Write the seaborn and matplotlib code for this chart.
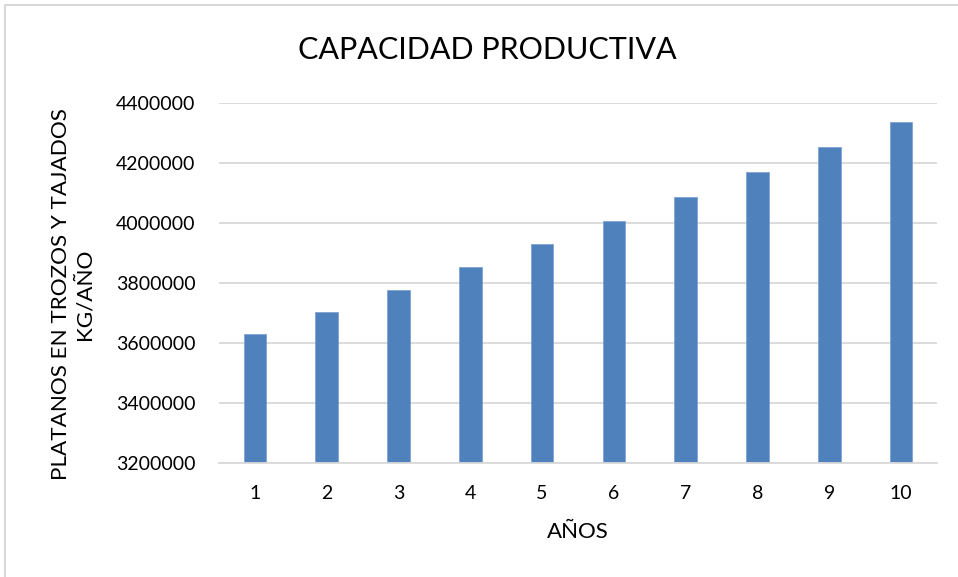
import matplotlib
matplotlib.use("Agg")
import matplotlib.pyplot as plt
from matplotlib.patches import Rectangle
import seaborn as sns
import pandas as pd

# Production capacity per year (kg/año)
years = [1, 2, 3, 4, 5, 6, 7, 8, 9, 10]
capacity = [3630000, 3702600, 3776650, 3852190, 3929230,
            4007810, 4087970, 4169730, 4253120, 4338190]
y_ticks = [3200000, 3400000, 3600000, 3800000, 4000000, 4200000, 4400000]

title = "CAPACIDAD PRODUCTIVA"
x_label = "AÑOS"
y_label = "PLATANOS EN TROZOS Y TAJADOS\nKG/AÑO"

sns.set_theme(style="white")
plt.rcParams["font.family"] = ["Lato", "DejaVu Sans"]

W, H = 958, 577
fig = plt.figure(figsize=(W / 100, H / 100), dpi=100)
fig.patch.set_facecolor("white")

# light frame around the chart area
fig.patches.append(Rectangle((5 / W, -0.1), 1.2, 1.1 - 5 / H,
                             transform=fig.transFigure, fill=False,
                             edgecolor="#D0D0D0", linewidth=1.2))

ax = fig.add_axes([219 / W, 1 - 463 / H, 718 / W, 360 / H])
df = pd.DataFrame({"year": years, "kg": capacity})
sns.barplot(data=df, x="year", y="kg", color="#4F81BD", saturation=1,
            width=0.313, edgecolor="#7FA3D4", linewidth=0.6, ax=ax)

ax.set_ylim(y_ticks[0], y_ticks[-1])
ax.set_yticks(y_ticks)
ax.set_yticklabels([str(t) for t in y_ticks])
ax.set_xlim(-0.5, len(years) - 0.5)
ax.yaxis.grid(True, color="#D9D9D9", linewidth=1.3)
ax.set_axisbelow(True)
for side in ("top", "right", "left"):
    ax.spines[side].set_visible(False)
ax.spines["bottom"].set_color("#D9D9D9")
ax.spines["bottom"].set_linewidth(1.3)
ax.tick_params(axis="both", length=0, labelsize=14, colors="black")
ax.tick_params(axis="y", pad=17)
ax.tick_params(axis="x", pad=16)
ax.set_xlabel("")
ax.set_ylabel("")

fig.text(487 / W, 1 - 50 / H, title, ha="center", va="center",
         fontsize=22, color="black")
fig.text(578 / W, 1 - 532 / H, x_label, ha="center", va="center",
         fontsize=16, color="black")
fig.text(73 / W, 1 - 294 / H, y_label, ha="center", va="center",
         rotation=90, multialignment="center", fontsize=16.2,
         color="black", linespacing=1.2)

fig.savefig("out.png", dpi=100, facecolor="white")
